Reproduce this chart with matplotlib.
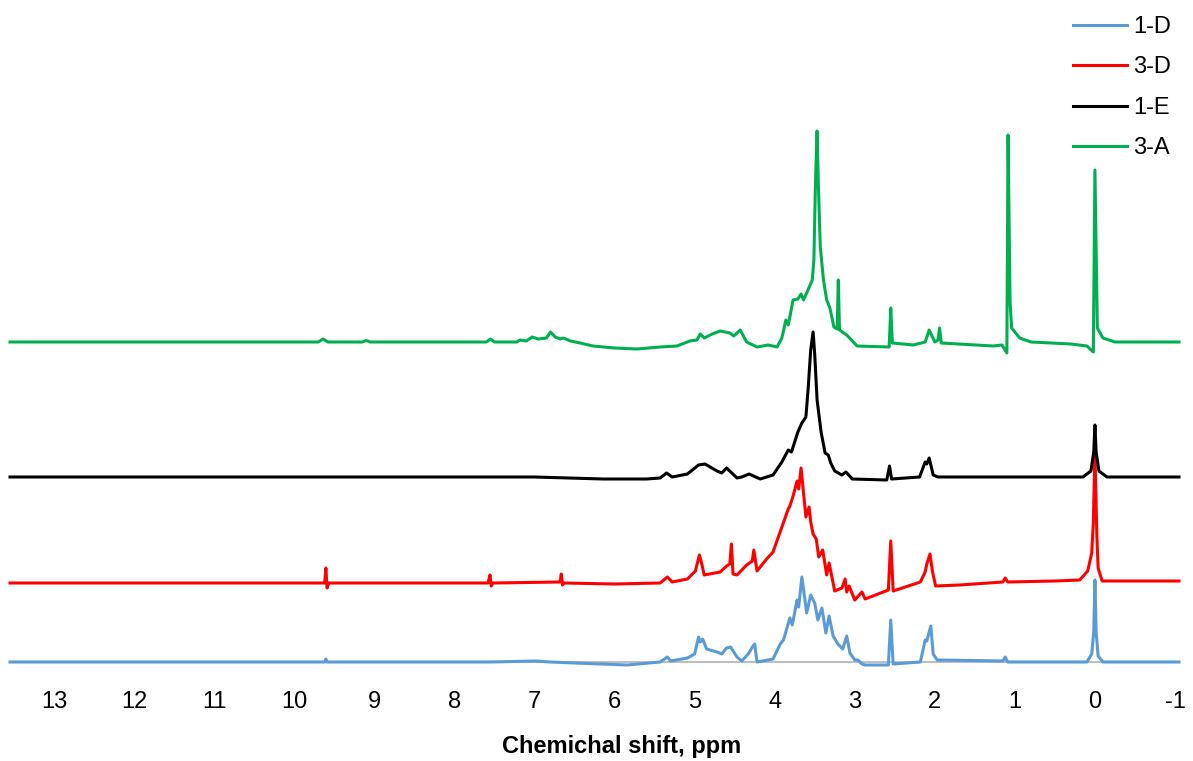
import matplotlib
matplotlib.use("Agg")
import matplotlib.pyplot as plt

plt.rcParams['font.family'] = ['Liberation Sans', 'DejaVu Sans']

# ---------------- data (ppm, relative intensity) ----------------
labels = ["1-D", "3-D", "1-E", "3-A"]
colors = ["#5B9BD5", "#FF0000", "#000000", "#00B050"]
offsets = [0, 79, 185, 320]

ppm_1D = [13.55, 9.62, 9.605, 9.59, 7.55, 7.0, 6.8, 6.5, 5.84, 5.43, 5.34, 5.30, 5.09,
          5.00, 4.95, 4.93, 4.90, 4.85, 4.72, 4.66, 4.60, 4.55, 4.47, 4.41, 4.33, 4.27,
          4.25, 4.22, 4.02, 3.93, 3.89, 3.81, 3.78, 3.72, 3.70, 3.66, 3.60, 3.55, 3.50,
          3.46, 3.41, 3.36, 3.32, 3.27, 3.21, 3.15, 3.10, 3.06, 3.00, 2.96, 2.91, 2.87,
          2.58, 2.55, 2.52, 2.18, 2.12, 2.10, 2.05, 2.02, 1.97, 1.15, 1.12, 1.09, 0.10,
          0.04, 0.015, 0.0, -0.015, -0.04, -0.10, -1.05]
int_1D = [0, 0, 3, 0, 0, 1, 0, -1, -3, 0, 5, 1, 4,
          8, 25, 20, 23, 13, 10, 8, 14, 15, 5, 1, 8, 16,
          18, 0, 3, 18, 22, 44, 37, 62, 55, 85, 49, 67, 59,
          42, 54, 29, 46, 26, 18, 13, 26, 9, 2, 2, -2, -3,
          -3, 42, -2, 0, 22, 21, 36, 8, 2, 1, 5, 0, 0,
          8, 30, 82, 30, 6, 0, 0]

ppm_3D = [13.55, 9.62, 9.605, 9.59, 9.57, 7.58, 7.555, 7.54, 7.52, 6.68, 6.665, 6.65,
          6.63, 6.0, 5.43, 5.34, 5.28, 5.09, 4.99, 4.94, 4.91, 4.88, 4.68, 4.60, 4.56,
          4.54, 4.52, 4.47, 4.35, 4.28, 4.26, 4.22, 4.10, 4.02, 3.91, 3.83, 3.81, 3.77,
          3.72, 3.70, 3.67, 3.61, 3.57, 3.55, 3.52, 3.48, 3.45, 3.40, 3.35, 3.32, 3.25,
          3.16, 3.12, 3.10, 3.07, 3.00, 2.91, 2.87, 2.58, 2.55, 2.52, 2.18, 2.12, 2.10,
          2.06, 2.03, 1.99, 1.69, 1.15, 1.12, 1.09, 0.50, 0.19, 0.09, 0.04, 0.02, 0.0,
          -0.025, -0.04, -0.09, -1.05]
int_3D = [0, 0, 15, -5, 0, 0, 8, -3, 0, 1, 9, -2,
          0, -1, 0, 6, 1, 4, 12, 28, 19, 8, 11, 17, 19,
          39, 9, 8, 18, 22, 33, 12, 24, 31, 56, 74, 77, 87,
          102, 94, 115, 66, 76, 61, 49, 44, 26, 33, 8, 20, -8,
          -5, 4, -9, -3, -17, -9, -16, -7, 42, -8, 1, 11, 19,
          29, 12, -3, -2, 1, 5, 1, 2, 3, 12, 30, 60, 130,
          45, 15, 2, 2]

ppm_1E = [13.55, 9.6, 7.0, 6.14, 5.6, 5.43, 5.35, 5.28, 5.09, 4.95, 4.87, 4.72, 4.66,
          4.60, 4.47, 4.41, 4.32, 4.18, 4.02, 3.91, 3.83, 3.79, 3.71, 3.66, 3.61, 3.58,
          3.55, 3.52, 3.50, 3.47, 3.42, 3.37, 3.33, 3.30, 3.25, 3.16, 3.11, 3.03, 2.60,
          2.565, 2.54, 2.19, 2.12, 2.10, 2.07, 2.02, 1.96, 1.0, 0.15, 0.05, 0.015, 0.0,
          -0.015, -0.05, -0.15, -1.05]
int_1E = [0, 0, 0, -2, -2, -1, 4, 0, 3, 12, 13, 6, 4,
          9, -1, 0, 3, -2, 2, 15, 27, 25, 45, 54, 60, 90,
          127, 145, 123, 77, 45, 24, 22, 14, 6, 2, 5, -2, -3,
          11, -2, 0, 15, 13, 19, 2, 0, 0, 0, 6, 25, 52,
          25, 6, 0, 0]

ppm_3A = [13.55, 11.0, 10.0, 9.70, 9.64, 9.58, 9.15, 9.10, 9.05, 8.0, 7.60, 7.55, 7.50,
          7.22, 7.18, 7.10, 7.03, 6.95, 6.85, 6.80, 6.74, 6.68, 6.64, 6.55, 6.43, 6.27,
          6.0, 5.72, 5.43, 5.22, 5.06, 4.97, 4.93, 4.88, 4.78, 4.68, 4.56, 4.51, 4.43,
          4.35, 4.22, 4.08, 3.97, 3.91, 3.86, 3.83, 3.77, 3.71, 3.67, 3.64, 3.60, 3.53,
          3.51, 3.49, 3.47, 3.455, 3.43, 3.39, 3.35, 3.31, 3.26, 3.22, 3.205, 3.19, 3.10,
          2.97, 2.57, 2.55, 2.53, 2.27, 2.12, 2.07, 2.00, 1.96, 1.94, 1.92, 1.27, 1.16,
          1.10, 1.085, 1.06, 1.04, 0.94, 0.80, 0.30, 0.10, 0.02, 0.0, -0.03, -0.10,
          -0.25, -1.05]
int_3A = [0, 0, 0, 0, 3, 0, 0, 1.5, 0, 0, 0, 3, 0,
          0, 2, 1, 5, 3, 4, 10, 5, 3, 4, 1, -1, -4,
          -6, -7, -5, -4, 1, 2, 8, 4, 8, 11, 9, 6, 12,
          0, -5, -3, -5, 4, 22, 17, 42, 43, 48, 42, 49, 62,
          82, 160, 211, 160, 95, 62, 42, 34, 15, 13, 62, 12, 7,
          -4, -5, 34, -1, -3, 0, 12, 0, 2, 14, -1, -4, -3,
          -11, 207, 40, 14, 4, 0, -2, -4, -10, 172, 14, 4,
          0, 0]

xticks = list(range(13, -2, -1))
xtick_labels = [str(t) for t in xticks]
xlabel = "Chemichal shift, ppm"

series_ppm = [ppm_1D, ppm_3D, ppm_1E, ppm_3A]
series_int = [int_1D, int_3D, int_1E, int_3A]

# ---------------- figure ----------------
W, H = 1193, 761
fig = plt.figure(figsize=(W / 100, H / 100), dpi=100)
ax = fig.add_axes([10 / W, (H - 662) / H, 1169 / W, 562 / H])

ax.set_xlim(13.55, -1.05)
ax.set_ylim(0, 562)

handles = []
for p, y, off, c, lab in zip(series_ppm, series_int, offsets, colors, labels):
    ln, = ax.plot(p, [v + off for v in y], color=c, lw=2.2, label=lab,
                  clip_on=False, zorder=3, solid_joinstyle='round')
    handles.append(ln)

for s in ['top', 'left', 'right']:
    ax.spines[s].set_visible(False)
ax.spines['bottom'].set_color('#BFBFBF')
ax.spines['bottom'].set_linewidth(1.5)
ax.spines['bottom'].set_zorder(1)

ax.set_yticks([])
ax.set_xticks(xticks)
ax.set_xticklabels(xtick_labels, fontsize=17)
ax.tick_params(axis='x', length=0, pad=21)

fig.text(622 / W, 1 - 746 / H, xlabel, ha='center', va='center',
         fontsize=17, fontweight='bold')

fig.legend(handles, labels, loc='upper left',
           bbox_to_anchor=(1073 / W, 1 - 16 / H), frameon=False,
           fontsize=17, handlelength=2.3, handletextpad=0.25,
           labelspacing=0.78, borderpad=0, borderaxespad=0)

fig.savefig("out.png", dpi=100)
